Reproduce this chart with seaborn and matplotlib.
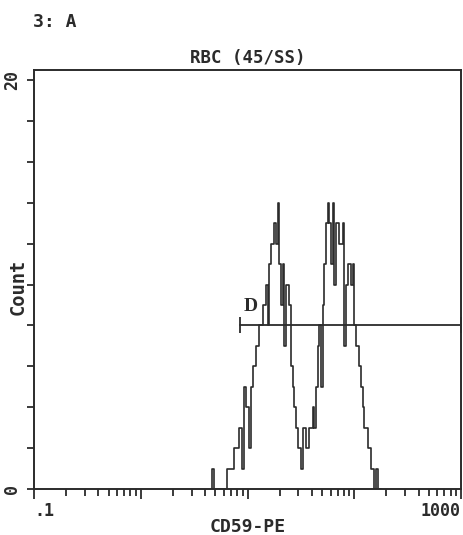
"""Flow cytometry single-parameter histogram: RBC CD59-PE with gate D."""
import matplotlib

matplotlib.use("Agg")
import matplotlib.pyplot as plt
import numpy as np
import pandas as pd
import seaborn as sns
from matplotlib.ticker import LogLocator, NullFormatter

# 256 log channels over 4 decades (0.1 .. 1000); counts for channels 106..207
channels_per_decade = 64
first_channel = 106
counts = [
    0, 1, 0, 0, 0, 0, 0, 0, 0, 0,
    1, 1, 1, 1, 2, 2, 2, 3, 3, 1,
    5, 4, 4, 2, 5, 6, 6, 7, 7, 8,
    8, 9, 9, 10, 8, 11, 12, 12, 13, 12,
    14, 11, 9, 11, 7, 10, 10, 9, 6, 5,
    4, 3, 2, 2, 1, 3, 3, 2, 2, 3,
    3, 4, 3, 5, 7, 8, 5, 9, 11, 13,
    14, 13, 11, 14, 10, 13, 13, 12, 12, 13,
    7, 10, 11, 11, 10, 11, 8, 7, 7, 6,
    5, 4, 3, 3, 2, 2, 1, 1, 0, 1,
    0, 0,
]

gate_label = "D"
gate_range = [8.5, 1000]
gate_level = 8.0

title = "RBC (45/SS)"
panel_label = "3: A"
x_label = "CD59-PE"
y_label = "Count"
x_ticks = [0.1, 1, 10, 100, 1000]
x_ticklabels = [".1", "", "", "", "1000"]
y_ticks = list(range(0, 21, 2))
y_ticklabels = ["0", "", "", "", "", "", "", "", "", "", "20"]

ink = "#2b2b2b"

sns.set_theme(style="ticks")
plt.rcParams["font.family"] = ["DejaVu Sans Mono"]
plt.rcParams["font.weight"] = "bold"

chan = np.arange(first_channel, first_channel + len(counts))
edges = 10 ** (-1 + np.arange(first_channel, first_channel + len(counts) + 1) / channels_per_decade)
df = pd.DataFrame({"cd59": 10 ** (-1 + (chan + 0.5) / channels_per_decade), "n": counts})

fig = plt.figure(figsize=(4.63, 5.35), dpi=100)
ax = fig.add_axes([34 / 463, 46 / 535, 427 / 463, 419 / 535])

sns.histplot(
    data=df,
    x="cd59",
    weights="n",
    bins=edges.tolist(),
    element="step",
    fill=False,
    color=ink,
    linewidth=1.2,
    ax=ax,
)
ax.set_xscale("log")
ax.set_xlim(0.1, 1000)
ax.set_ylim(0, 20.5)

# gate D
ax.plot(gate_range, [gate_level, gate_level], color=ink, lw=1.3, marker="|",
        markersize=11, markeredgewidth=1.3, clip_on=False)
ax.text(gate_range[0] * 1.08, gate_level + 0.5, gate_label, family=["Liberation Serif"],
        fontsize=14, fontweight="bold", color=ink, ha="left", va="bottom")

for s in ax.spines.values():
    s.set_visible(True)
    s.set_color(ink)
    s.set_linewidth(1.4)

ax.set_xticks(x_ticks)
ax.set_xticklabels(x_ticklabels, fontweight="bold")
ax.xaxis.set_minor_locator(LogLocator(base=10, subs=np.arange(2, 10), numticks=20))
ax.xaxis.set_minor_formatter(NullFormatter())
ax.tick_params(axis="x", which="major", direction="out", length=7, width=1.3, color=ink,
               labelsize=12, labelcolor=ink, pad=2)
ax.tick_params(axis="x", which="minor", direction="out", length=5, width=1.3, color=ink)
labels = ax.get_xticklabels()
labels[0].set_ha("left")
labels[-1].set_ha("right")

ax.set_yticks(y_ticks)
ax.set_yticklabels(y_ticklabels, rotation=90, va="center", fontweight="bold")
ax.tick_params(axis="y", direction="out", length=5, width=1.3, color=ink,
               labelsize=12, labelcolor=ink, pad=4)

ax.set_xlabel(x_label, fontsize=13, fontweight="bold", color=ink, labelpad=-1)
ax.set_ylabel(y_label, fontsize=13.5, fontweight="bold", color=ink, va="center")
ax.yaxis.set_label_coords(-0.038, 0.482)
ax.set_title(title, fontsize=12.5, fontweight="bold", color=ink, pad=5)
fig.text(33 / 463, 1 - 22 / 535, panel_label, fontsize=13, color=ink, ha="left", va="center",
         fontweight="bold")

fig.savefig("out.png", dpi=100, facecolor="white")
